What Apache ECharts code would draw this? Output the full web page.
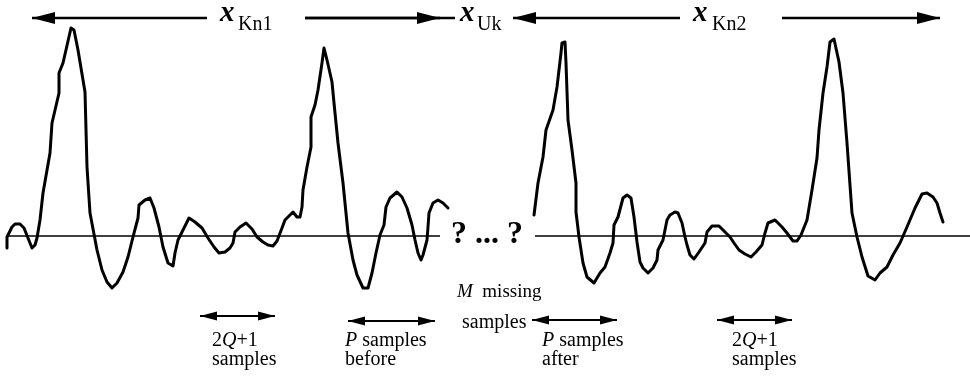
<!DOCTYPE html>
<html>
<head>
<meta charset="utf-8">
<script src="https://cdn.jsdelivr.net/npm/echarts@6/dist/echarts.min.js"></script>
<style>
  html, body { margin: 0; padding: 0; background: #fff; }
  #chart { width: 970px; height: 379px; }
</style>
</head>
<body>
<div id="chart"></div>
<script>
// Known segment before the gap: sample time and amplitude
const knownTime1 = [7,7,12,15,20,24,28,32,35,37,40,43,50,52,59,59,63,71,74,78,85,87,90,97,102,107,112,117,123,128,133,138,139,145,150,154,159,163,168,173,175,178,183,189,195,202,208,214,219,225,230,233,235,240,246,252,257,263,268,273,277,282,285,290,293,297,300,302,303,307,311,311,315,318,322,324,327,332,334,338,343,348,353,357,363,368,372,376,380,384,386,390,397,402,407,412,415,418,421,423,427,428,429,433,438,443,448];
const knownAmp1 = [-12,-1,9,12,12,8,-2,-12,-9,-2,16,43,83,113,143,163,173,208,206,186,144,69,23,-14,-34,-46,-52,-47,-36,-21,-1,18,31,36,38,28,9,-11,-27,-30,-17,-4,6,18,14,8,-2,-11,-17,-16,-12,-7,4,9,13,7,-1,-6,-9,-10,-5,8,16,21,24,19,19,29,46,69,89,119,131,146,173,188,176,154,133,93,53,3,-24,-39,-52,-52,-37,-17,1,11,29,38,44,39,28,11,-4,-17,-24,-19,-4,9,23,33,36,33,28];

// Known segment after the gap
const knownTime2 = [534,538,543,546,548,553,557,561,562,565,566,568,572,576,576,579,583,587,594,600,605,610,613,614,618,623,627,631,634,637,640,643,648,653,657,658,663,667,670,675,678,682,685,687,690,694,699,705,707,712,719,725,730,734,739,745,751,756,762,765,768,775,782,787,793,797,801,805,807,812,817,819,823,827,830,834,839,843,847,852,857,862,868,875,880,887,893,900,907,915,922,927,933,937,940,943];
const knownAmp2 = [21,53,79,106,108,126,149,183,193,194,173,116,86,53,24,-1,-27,-41,-47,-37,-31,-17,-7,11,19,38,41,38,19,-6,-26,-32,-37,-32,-24,-14,-4,16,21,24,23,13,-1,-9,-19,-23,-16,-7,4,10,10,4,-1,-7,-14,-18,-21,-16,-9,3,13,16,9,3,-5,-5,1,11,16,46,78,106,143,169,194,197,174,143,93,23,-1,-21,-40,-44,-37,-31,-19,-7,9,28,42,43,39,33,23,14];

// Zero-amplitude reference spans
const zeroSpans = [[8, 440], [535, 970]];

// Span arrows: [start, end, level, heads] — heads: 0 none, 1 at start, 2 at end, 3 both
const spanArrows = [
  [32, 207, 218, 1],
  [305, 455, 218, 0],
  [305, 440, 218, 2],
  [513, 680, 218, 1],
  [782, 940, 218, 2]
];
const windowArrows = [
  [200, 275, -80, 3],
  [348, 435, -85, 3],
  [532, 617, -84, 3],
  [717, 792, -84, 3]
];

const pair = (t, a) => t.map((v, i) => [v, a[i]]);

const serif = '"Liberation Serif", "Times New Roman", serif';

function arrowItem(headLen, headHalf, width) {
  return function (params, api) {
    const x1 = api.value(0), x2 = api.value(1), lvl = api.value(2), heads = api.value(3);
    const p1 = api.coord([x1, lvl]);
    const p2 = api.coord([x2, lvl]);
    const style = { fill: '#000', stroke: null };
    const children = [{
      type: 'line',
      shape: { x1: p1[0], y1: p1[1], x2: p2[0], y2: p2[1] },
      style: { stroke: '#000', lineWidth: width }
    }];
    if (heads & 1) {
      children.push({ type: 'polygon', shape: { points: [[p1[0], p1[1]], [p1[0] + headLen, p1[1] - headHalf], [p1[0] + headLen, p1[1] + headHalf]] }, style });
    }
    if (heads & 2) {
      children.push({ type: 'polygon', shape: { points: [[p2[0], p2[1]], [p2[0] - headLen, p2[1] - headHalf], [p2[0] - headLen, p2[1] + headHalf]] }, style });
    }
    return { type: 'group', children };
  };
}

const chart = echarts.init(document.getElementById('chart'), null, { renderer: 'canvas' });

const text = (x, y, str, size, extra) => ({
  type: 'text', x, y, silent: true,
  style: Object.assign({ text: str, font: size + 'px ' + serif, fill: '#000', align: 'left', verticalAlign: 'middle' }, extra || {})
});
const italicRich = size => ({ rich: { i: { font: 'italic ' + size + 'px ' + serif } } });

chart.setOption({
  backgroundColor: '#fff',
  animation: false,
  grid: { left: 0, right: 0, top: 0, bottom: 0 },
  xAxis: { type: 'value', min: 0, max: 970, show: false },
  yAxis: { type: 'value', min: -143, max: 236, show: false },
  series: [
    ...zeroSpans.map(s => ({
      type: 'line', data: [[s[0], 0], [s[1], 0]], showSymbol: false, silent: true,
      lineStyle: { color: '#000', width: 1.7 }
    })),
    {
      type: 'line', data: pair(knownTime1, knownAmp1), showSymbol: false, silent: true,
      lineStyle: { color: '#000', width: 3, join: 'round', cap: 'round' }
    },
    {
      type: 'line', data: pair(knownTime2, knownAmp2), showSymbol: false, silent: true,
      lineStyle: { color: '#000', width: 3, join: 'round', cap: 'round' }
    },
    { type: 'custom', data: spanArrows, renderItem: arrowItem(23, 6, 2.3), silent: true },
    { type: 'custom', data: windowArrows, renderItem: arrowItem(17, 4.5, 2), silent: true }
  ],
  graphic: [
    text(220, 14, 'x', 29, { font: 'italic bold 29px ' + serif }),
    text(238, 25, 'Kn1', 20),
    text(460, 14, 'x', 29, { font: 'italic bold 29px ' + serif }),
    text(477, 25, 'Uk', 20),
    text(693, 14, 'x', 29, { font: 'italic bold 29px ' + serif }),
    text(712, 25, 'Kn2', 20),
    text(451, 235, '? ... ?', 32, { font: 'bold 32px ' + serif }),
    text(457, 292, '{i|M}  missing', 19, italicRich(19)),
    text(462, 323, 'samples', 20),
    text(212, 341, '2{i|Q}+1', 20, italicRich(20)),
    text(212, 360, 'samples', 20),
    text(345, 341, '{i|P} samples', 20, italicRich(20)),
    text(345, 360, 'before', 20),
    text(542, 341, '{i|P} samples', 20, italicRich(20)),
    text(542, 360, 'after', 20),
    text(732, 341, '2{i|Q}+1', 20, italicRich(20)),
    text(732, 360, 'samples', 20)
  ]
});
</script>
</body>
</html>
